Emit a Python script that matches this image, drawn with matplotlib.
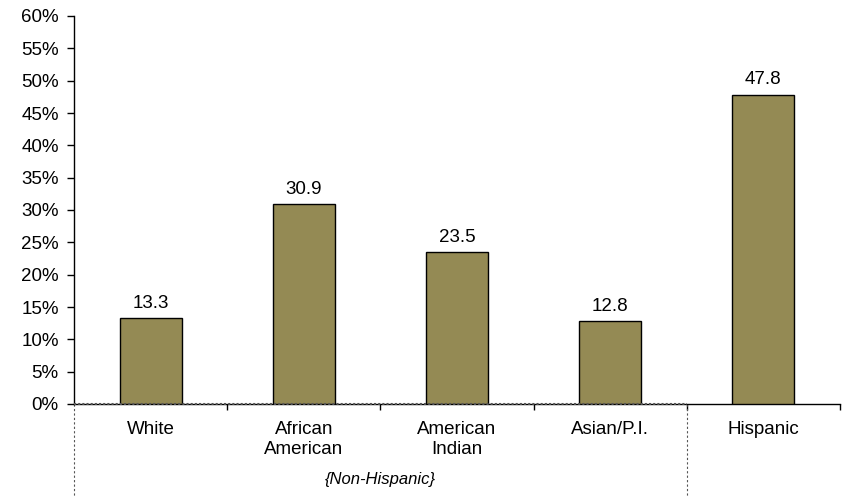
import matplotlib
matplotlib.use("Agg")
import matplotlib.pyplot as plt
from matplotlib.lines import Line2D
from matplotlib.ticker import FuncFormatter

categories = ["White", "African\nAmerican", "American\nIndian", "Asian/P.I.", "Hispanic"]
values = [13.3, 30.9, 23.5, 12.8, 47.8]
group_label = "{Non-Hispanic}"
yticks = list(range(0, 61, 5))

plt.rcParams['font.family'] = ['Liberation Sans', 'DejaVu Sans']

fig = plt.figure(figsize=(8.46, 4.97), dpi=100)
ax = fig.add_axes([74/846, 93/497, (840-74)/846, (404-16)/497])

x = list(range(len(categories)))
bars = ax.bar(x, values, width=0.405, color="#948A54", edgecolor="black", linewidth=1.0, zorder=3)
for xi, v in zip(x, values):
    ax.text(xi, v + 1.0, f"{v:.1f}", ha="center", va="bottom", fontsize=13.5)

ax.set_xlim(-0.5, len(categories) - 0.5)
ax.set_ylim(0, 60)
ax.set_yticks(yticks)
ax.yaxis.set_major_formatter(FuncFormatter(lambda v, p: f"{int(v)}%"))
ax.tick_params(axis="y", direction="out", length=5, width=1, labelsize=13.5, pad=6)

ax.set_xticks([i + 0.5 for i in range(len(categories) - 1)] + [len(categories) - 0.5])
ax.set_xticklabels([])
ax.tick_params(axis="x", direction="out", length=4, width=1)
ax.set_xticks(x, minor=True)
ax.set_xticklabels(categories, minor=True, fontsize=13.5, linespacing=1.28)
ax.tick_params(axis="x", which="minor", length=0, pad=12)

for s in ["top", "right"]:
    ax.spines[s].set_visible(False)
ax.spines["left"].set_linewidth(1)
ax.spines["bottom"].set_linewidth(1)

# group box (dashed)
for xv in [-0.5, 3.5]:
    ax.add_line(Line2D([xv, xv], [0, -14.5], color="#555555", linestyle=(0, (2, 2)),
                       linewidth=0.8, clip_on=False))
ax.add_line(Line2D([-0.5, 3.5], [0, 0], color="#555555", linestyle=(0, (1, 1)),
                   linewidth=1.5, clip_on=False, zorder=4))
ax.text(1.5, -11.65, group_label, ha="center", va="center", fontsize=12, style="italic")

fig.savefig("out.png", dpi=100)
